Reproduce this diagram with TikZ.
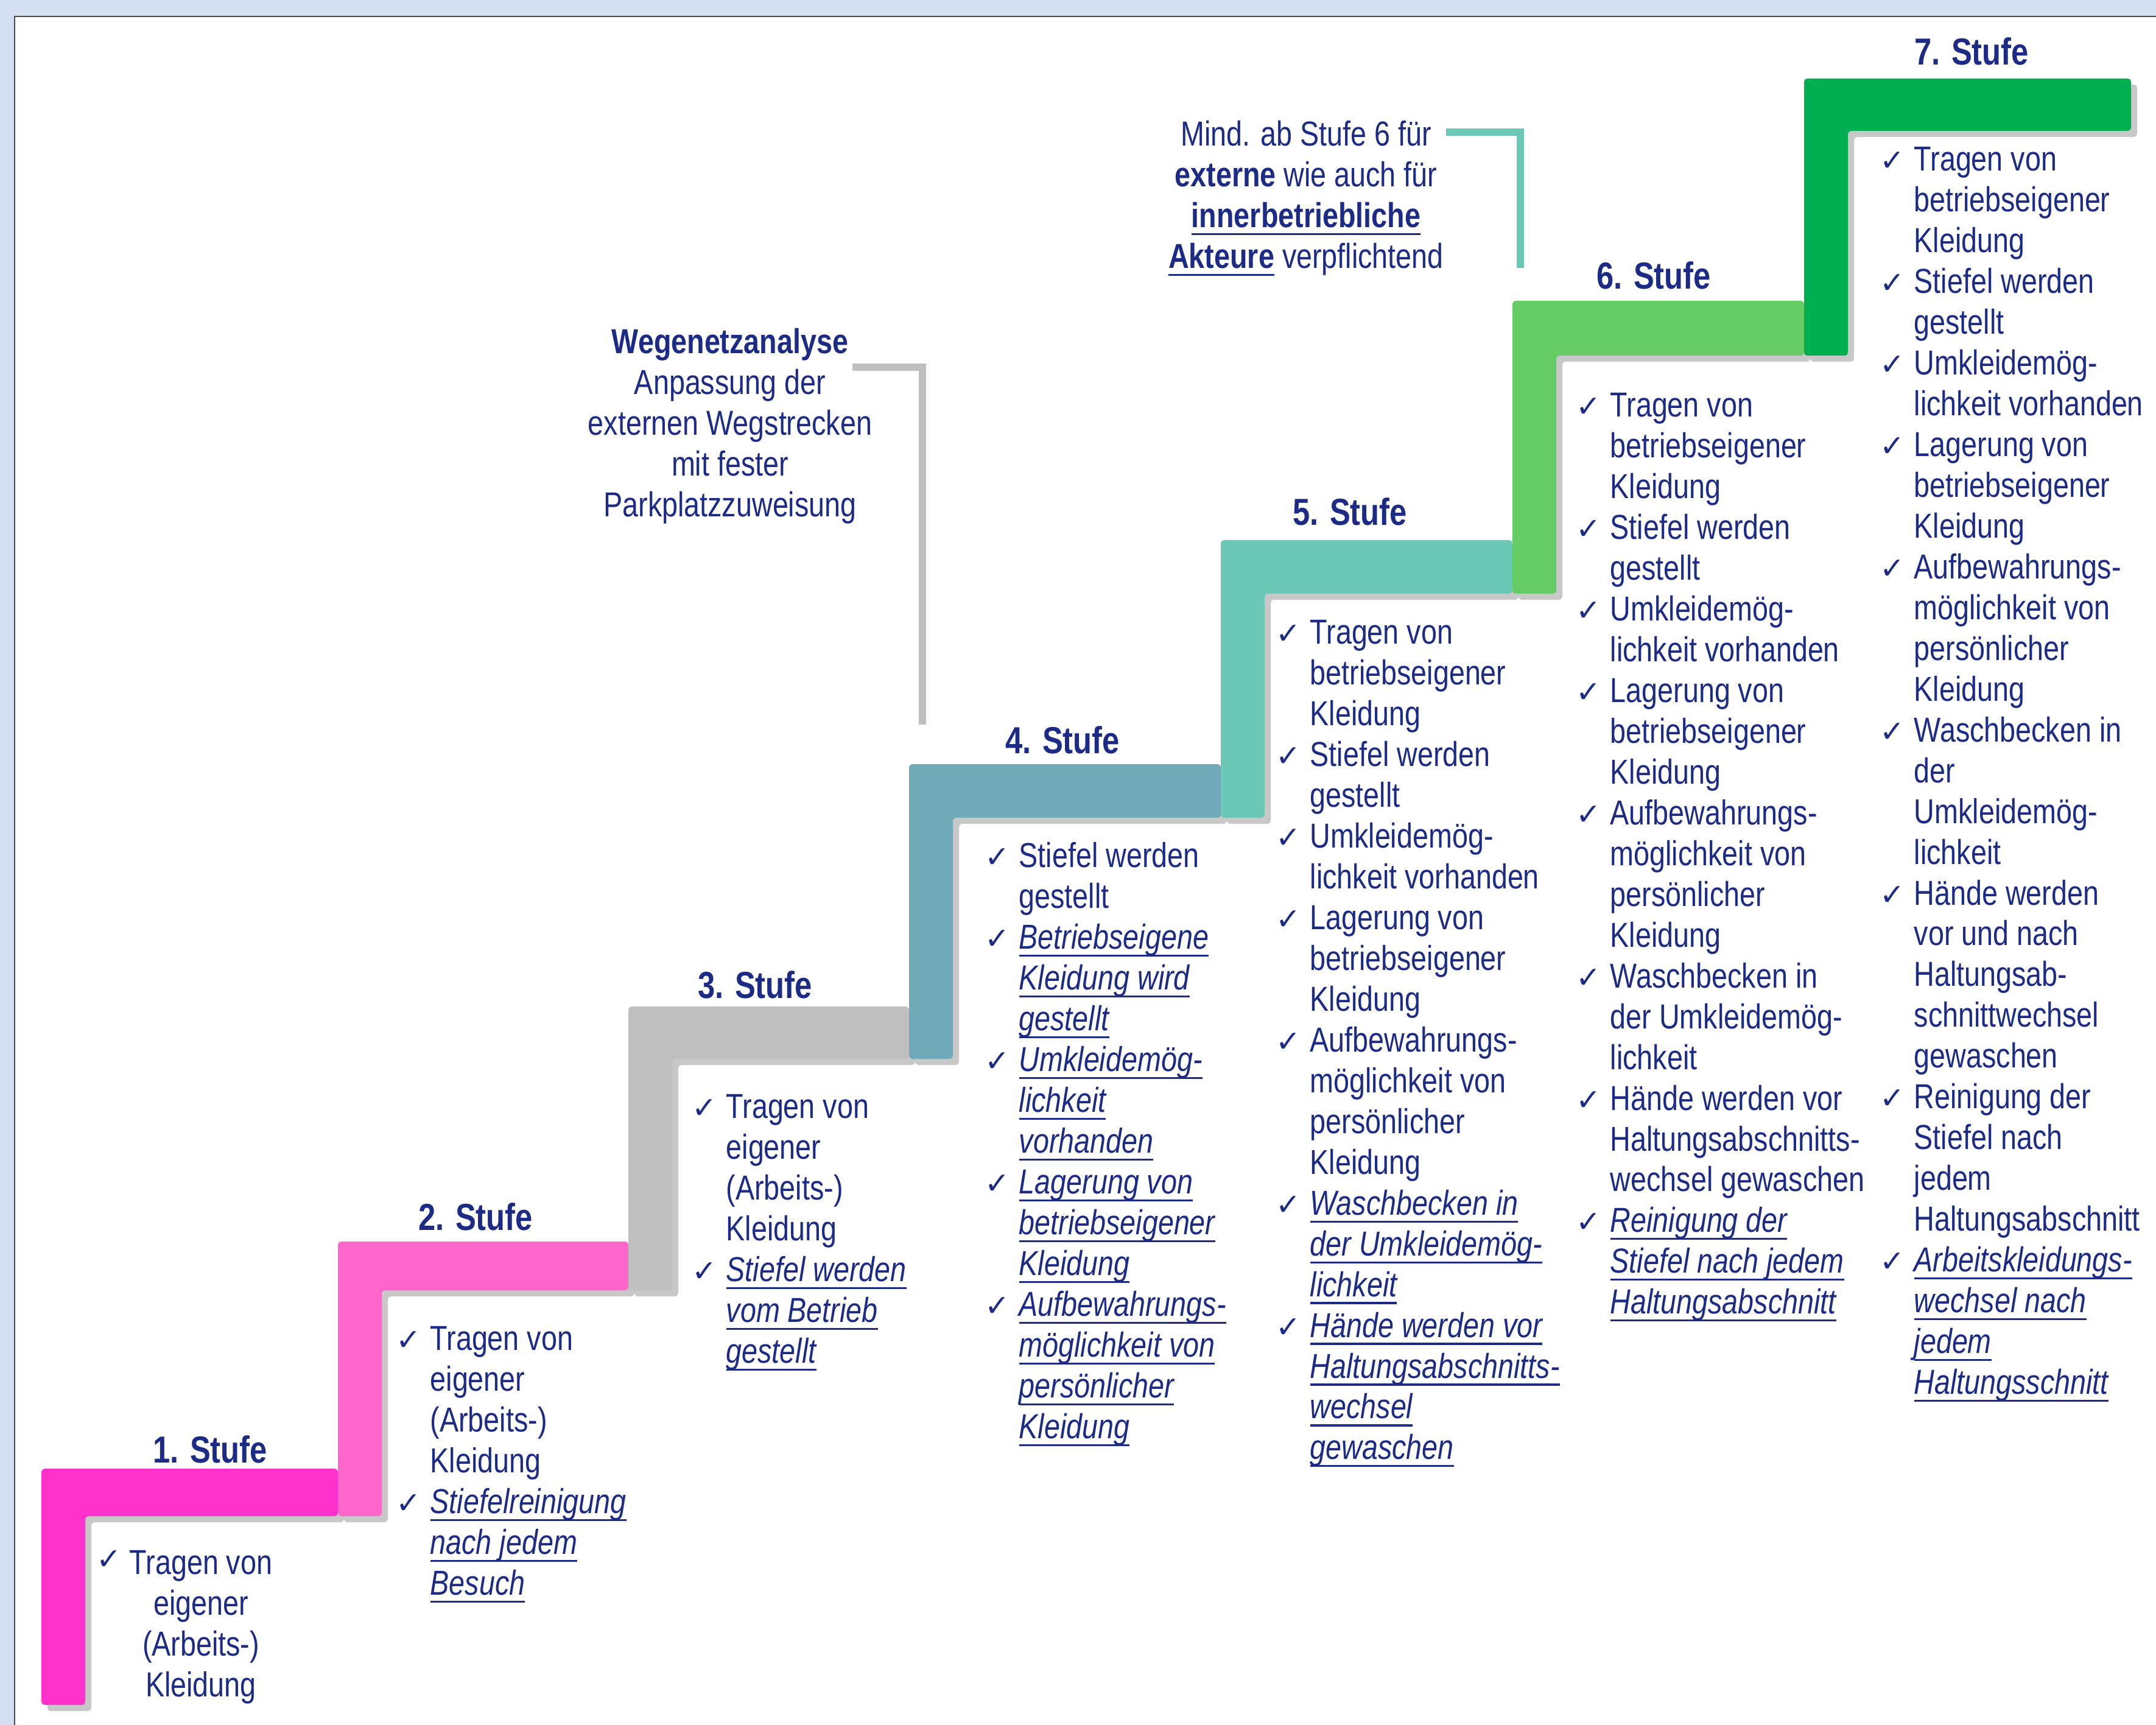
\documentclass[tikz,border=0pt]{standalone}
\usepackage{fontspec}
\setmainfont{Liberation Sans}[FakeStretch=0.82]
\newfontfamily\chkfont{DejaVu Sans}
\usetikzlibrary{shadows,calc}

\definecolor{txtblue}{HTML}{1B2B86}
\definecolor{frameblue}{HTML}{D4DFF1}
\definecolor{stepA}{HTML}{FF33CC}
\definecolor{stepB}{HTML}{FF66CC}
\definecolor{stepC}{HTML}{BFBFBF}
\definecolor{stepD}{HTML}{70A9B7}
\definecolor{stepE}{HTML}{6CC8B6}
\definecolor{stepF}{HTML}{66CC66}
\definecolor{stepG}{HTML}{00B050}

\newcommand{\ck}{\makebox[0.56cm][l]{\chkfont\fontsize{14}{14}\selectfont ✓}}
\newcommand{\ind}{\hspace*{0.56cm}}
\newcommand{\ustr}[1]{\setbox0=\hbox{#1}\rlap{\rule[-0.22em]{\wd0}{0.9pt}}\box0\relax}
\newcommand{\iu}[1]{\ustr{\itshape #1}}

\tikzset{
  stufe/.style={font=\bfseries\fontsize{17.6}{20}\selectfont, text=txtblue, inner sep=0pt},
  liste/.style={font=\fontsize{16.2}{19.05}\selectfont, text=txtblue, align=left, anchor=north west, inner sep=0pt},
  notiz/.style={font=\fontsize{16.2}{19.05}\selectfont, text=txtblue, align=center, anchor=north, inner sep=0pt},
  bar/.style={rounded corners=1.5pt, drop shadow={shadow xshift=1mm, shadow yshift=-1mm, opacity=0.3, fill=black!70}},
  notizlinie/.style={line width=3.3pt},
}

\begin{document}
\begin{tikzpicture}[y=-1cm]
\useasboundingbox (0,0) rectangle (35.41,28.33);
\fill[frameblue] (0,0) rectangle (35.41,28.33);
\fill[white] (0.24,0.27) rectangle (35.41,28.33);
\draw[black!70, line width=0.8pt] (0.24,28.33) -- (0.24,0.27) -- (35.41,0.27);

% Treppe
\foreach \xl/\yt/\xr/\t/\yb/\col in {0.68/24.12/5.55/0.78/28.00/stepA,
    5.55/20.39/10.32/0.80/24.90/stepB, 10.32/16.53/14.93/0.86/21.19/stepC,
    14.93/12.55/20.05/0.88/17.39/stepD, 20.05/8.87/24.84/0.88/13.43/stepE,
    24.84/4.94/29.63/0.90/9.75/stepF, 29.63/1.29/35.00/0.86/5.84/stepG}
  \fill[bar, fill=\col] (\xl,\yt) -- (\xr,\yt) -- (\xr,\yt+\t) -- (\xl+0.72,\yt+\t)
    -- (\xl+0.72,\yb) -- (\xl,\yb) -- cycle;

\node[stufe] (t1) at (3.45,23.80) {1. Stufe};
\node[stufe] (t2) at (7.81,19.98) {2. Stufe};
\node[stufe] (t3) at (12.40,16.17) {3. Stufe};
\node[stufe] (t4) at (17.45,12.15) {4. Stufe};
\node[stufe] (t5) at (22.17,8.40) {5. Stufe};
\node[stufe] (t6) at (27.16,4.52) {6. Stufe};
\node[stufe] (t7) at (32.38,0.84) {7. Stufe};

\node[liste] (c1) at (1.58,25.46) {\ck};
\node[liste, align=center, anchor=north] (l1) at (3.30,25.46) {Tragen von\\eigener\\(Arbeits-)\\Kleidung};

\node[liste] (l2) at (6.50,21.78) {\ck Tragen von\\
  \ind eigener\\
  \ind (Arbeits-)\\
  \ind Kleidung\\
  \ck\iu{Stiefelreinigung}\\
  \ind\iu{nach jedem}\\
  \ind\iu{Besuch}};

\node[liste] (l3) at (11.36,17.97) {\ck Tragen von\\
  \ind eigener\\
  \ind (Arbeits-)\\
  \ind Kleidung\\
  \ck\iu{Stiefel werden}\\
  \ind\iu{vom Betrieb}\\
  \ind\iu{gestellt}};

\node[liste] (l4) at (16.17,13.83) {\ck Stiefel werden\\
  \ind gestellt\\
  \ck\iu{Betriebseigene}\\
  \ind\iu{Kleidung wird}\\
  \ind\iu{gestellt}\\
  \ck\iu{Umkleidemög-}\\
  \ind\iu{lichkeit}\\
  \ind\iu{vorhanden}\\
  \ck\iu{Lagerung von}\\
  \ind\iu{betriebseigener}\\
  \ind\iu{Kleidung}\\
  \ck\iu{Aufbewahrungs-}\\
  \ind\iu{möglichkeit von}\\
  \ind\iu{persönlicher}\\
  \ind\iu{Kleidung}};

\node[liste] (l5) at (20.95,10.18) {\ck Tragen von\\
  \ind betriebseigener\\
  \ind Kleidung\\
  \ck Stiefel werden\\
  \ind gestellt\\
  \ck Umkleidemög-\\
  \ind lichkeit vorhanden\\
  \ck Lagerung von\\
  \ind betriebseigener\\
  \ind Kleidung\\
  \ck Aufbewahrungs-\\
  \ind möglichkeit von\\
  \ind persönlicher\\
  \ind Kleidung\\
  \ck\iu{Waschbecken in}\\
  \ind\iu{der Umkleidemög-}\\
  \ind\iu{lichkeit}\\
  \ck\iu{Hände werden vor}\\
  \ind\iu{Haltungsabschnitts-}\\
  \ind\iu{wechsel}\\
  \ind\iu{gewaschen}};

\node[liste] (l6) at (25.88,6.45) {\ck Tragen von\\
  \ind betriebseigener\\
  \ind Kleidung\\
  \ck Stiefel werden\\
  \ind gestellt\\
  \ck Umkleidemög-\\
  \ind lichkeit vorhanden\\
  \ck Lagerung von\\
  \ind betriebseigener\\
  \ind Kleidung\\
  \ck Aufbewahrungs-\\
  \ind möglichkeit von\\
  \ind persönlicher\\
  \ind Kleidung\\
  \ck Waschbecken in\\
  \ind der Umkleidemög-\\
  \ind lichkeit\\
  \ck Hände werden vor\\
  \ind Haltungsabschnitts-\\
  \ind wechsel gewaschen\\
  \ck\iu{Reinigung der}\\
  \ind\iu{Stiefel nach jedem}\\
  \ind\iu{Haltungsabschnitt}};

\node[liste] (l7) at (30.87,2.41) {\ck Tragen von\\
  \ind betriebseigener\\
  \ind Kleidung\\
  \ck Stiefel werden\\
  \ind gestellt\\
  \ck Umkleidemög-\\
  \ind lichkeit vorhanden\\
  \ck Lagerung von\\
  \ind betriebseigener\\
  \ind Kleidung\\
  \ck Aufbewahrungs-\\
  \ind möglichkeit von\\
  \ind persönlicher\\
  \ind Kleidung\\
  \ck Waschbecken in\\
  \ind der\\
  \ind Umkleidemög-\\
  \ind lichkeit\\
  \ck Hände werden\\
  \ind vor und nach\\
  \ind Haltungsab-\\
  \ind schnittwechsel\\
  \ind gewaschen\\
  \ck Reinigung der\\
  \ind Stiefel nach\\
  \ind jedem\\
  \ind Haltungsabschnitt\\
  \ck\iu{Arbeitskleidungs-}\\
  \ind\iu{wechsel nach}\\
  \ind\iu{jedem}\\
  \ind\iu{Haltungsschnitt}};

% Hinweise
\node[notiz] (weg) at (11.99,5.39) {\textbf{Wegenetzanalyse}\\Anpassung der\\externen Wegstrecken\\mit fester\\Parkplatzzuweisung};
\coordinate (wegknick) at (14.00,6.03);
\coordinate (wegende) at (15.15,11.90);
\draw[notizlinie, stepC] (wegknick) -| (wegende);

\node[notiz] (mind) at (21.45,1.98) {Mind. ab Stufe 6 für\\\textbf{externe} wie auch für\\\ustr{\textbf{innerbetriebliche}}\\\ustr{\textbf{Akteure}} verpflichtend};
\coordinate (mindknick) at (23.75,2.17);
\coordinate (mindende) at (24.97,4.40);
\draw[notizlinie, stepE] (mindknick) -| (mindende);
\end{tikzpicture}
\end{document}
